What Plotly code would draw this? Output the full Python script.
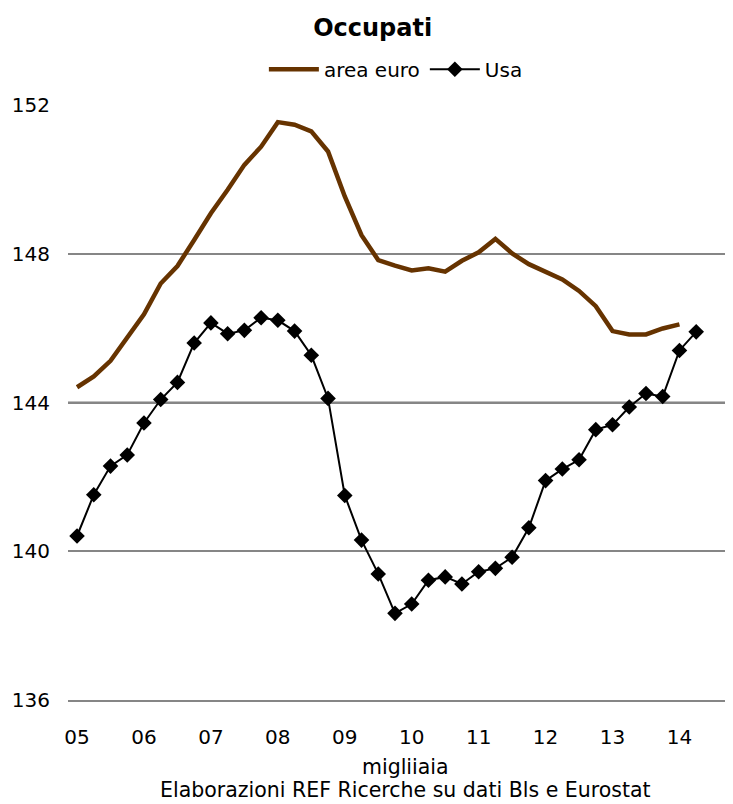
import plotly.graph_objects as go

# ---- data ----
years = ["05", "06", "07", "08", "09", "10", "11", "12", "13", "14"]
quarters = [f"{y}Q{q}" for y in years for q in range(1, 5)]

area_euro = [144.41, 144.70, 145.12, 145.72, 146.37, 147.20, 147.67, 148.37,
             149.09, 149.72, 150.39, 150.88, 151.54, 151.47, 151.29, 150.75,
             149.54, 148.50, 147.83, 147.68, 147.55, 147.61, 147.52, 147.81,
             148.04, 148.40, 148.01, 147.72, 147.53, 147.31, 147.00, 146.59,
             145.92, 145.83, 145.83, 145.99, 146.10]

usa = [140.41, 141.52, 142.29, 142.59, 143.45, 144.08, 144.54, 145.60,
       146.14, 145.85, 145.94, 146.28, 146.21, 145.92, 145.27, 144.11,
       141.50, 140.30, 139.39, 138.33, 138.58, 139.22, 139.31, 139.12,
       139.45, 139.54, 139.84, 140.63, 141.90, 142.21, 142.46, 143.27,
       143.40, 143.88, 144.24, 144.16, 145.40, 145.90]

y_ticks = [136, 140, 144, 148, 152]
axis_cross = 144

FONT = "DejaVu Sans, Verdana, sans-serif"

fig = go.Figure()
fig.add_trace(go.Scatter(
    x=quarters[:len(area_euro)], y=area_euro, name="area euro", mode="lines",
    line=dict(color="#663300", width=4.5)))
fig.add_trace(go.Scatter(
    x=quarters[:len(usa)], y=usa, name="Usa", mode="lines+markers",
    line=dict(color="#000000", width=2),
    marker=dict(symbol="diamond", size=12, color="#000000")))

fig.add_shape(type="line", xref="paper", yref="y", x0=0, x1=1,
              y0=axis_cross, y1=axis_cross, line=dict(color="#000000", width=1.6),
              layer="between")

fig.update_layout(
    width=725, height=796,
    margin=dict(l=60, r=0, t=97, b=104, autoexpand=False),
    paper_bgcolor="white", plot_bgcolor="white",
    font=dict(family=FONT, size=20, color="#000000"),
    title=dict(text="<b>Occupati</b>", x=0.503, xanchor="center",
               xref="container", yref="container",
               y=0.976, yanchor="middle", font=dict(size=24, family=FONT)),
    showlegend=True,
    legend=dict(orientation="h", x=0.535, xanchor="center",
                xref="container", yref="container", y=0.923,
                yanchor="middle", font=dict(size=20, family=FONT),
                itemwidth=50, tracegroupgap=0, bgcolor="rgba(0,0,0,0)"),
    xaxis=dict(type="category", categoryorder="array", categoryarray=quarters,
               range=[-0.54, 39.2], tickmode="array",
               tickvals=[f"{y}Q1" for y in years], ticktext=years,
               showgrid=False, showline=True, linecolor="#868686",
               linewidth=1.5, zeroline=False, ticks="",
               automargin=False,
               ticklabelstandoff=18, tickfont=dict(size=20)),
    yaxis=dict(range=[136, 152], tickvals=y_ticks,
               showgrid=True, gridcolor="#868686", gridwidth=1.5,
               zeroline=False, showline=False, ticks="", automargin=False,
               ticklabelstandoff=17, tickfont=dict(size=20)),
    annotations=[
        dict(text="migliiaia", xref="paper", yref="paper", x=0.507, y=-0.1126,
             xanchor="center", yanchor="middle", showarrow=False,
             font=dict(size=20.5, family=FONT)),
        dict(text="Elaborazioni REF Ricerche su dati Bls e Eurostat",
             xref="paper", yref="paper", x=0.507, y=-0.151,
             xanchor="center", yanchor="middle", showarrow=False,
             font=dict(size=20.5, family=FONT)),
    ],
)

fig.write_html("out.html")
